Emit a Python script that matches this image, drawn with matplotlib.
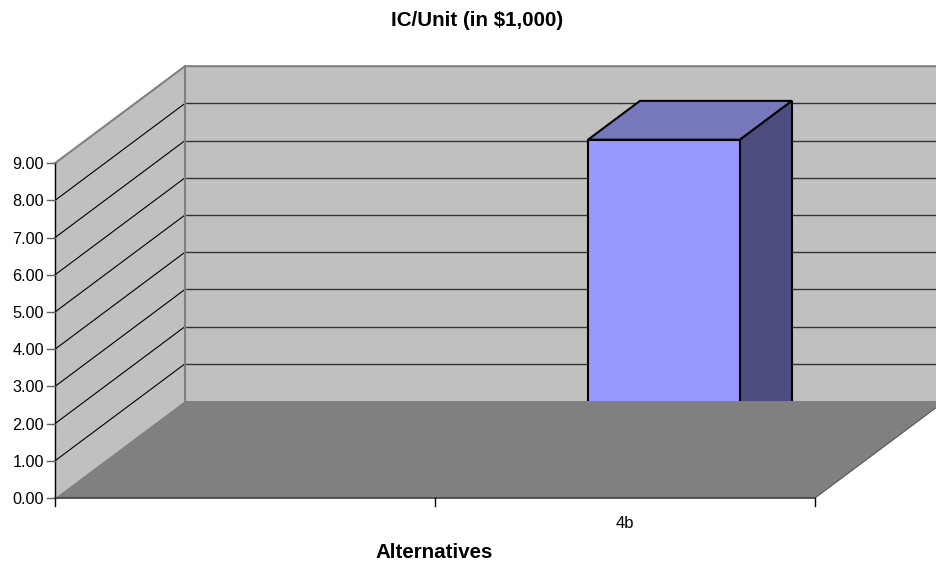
import matplotlib
matplotlib.use("Agg")
import matplotlib.pyplot as plt
from matplotlib.patches import Polygon

plt.rcParams['font.family'] = ['Liberation Sans', 'DejaVu Sans']

# data
categories = ['', '4b']
values = [0.0, 8.85]
y_ticks = [0, 1, 2, 3, 4, 5, 6, 7, 8, 9]
title = 'IC/Unit (in $1,000)'
x_title = 'Alternatives'

# oblique projection of the 3d chart box, in pixels
X0, Y0 = 55, 498
CAT_W = 380
UNIT_H = 37.2
DX, DY = 130, -97
BAR_W = 0.4
D0, D1 = 0.3, 0.7


def proj(cat, val, depth=0.0):
    return (X0 + cat * CAT_W + depth * DX, Y0 - val * UNIT_H + depth * DY)


def face(ax, pts, color, edge='none', lw=0, z=1):
    ax.add_patch(Polygon(pts, closed=True, facecolor=color, edgecolor=edge,
                         linewidth=lw, zorder=z, joinstyle='miter'))


fig = plt.figure(figsize=(9.36, 5.62), dpi=100)
ax = fig.add_axes([0, 0, 1, 1])
ax.set_xlim(0, 936)
ax.set_ylim(562, 0)
ax.axis('off')

n = len(categories)
top = y_ticks[-1]

# walls
face(ax, [proj(0, 0), proj(0, top), proj(0, top, 1), proj(0, 0, 1)], '#C0C0C0', z=1)
face(ax, [proj(0, 0, 1), proj(0, top, 1), proj(n, top, 1), proj(n, 0, 1)], '#C0C0C0', z=1)

# gridlines
for t in y_ticks[1:-1]:
    ax.plot(*zip(proj(0, t), proj(0, t, 1)), color='black', lw=0.8, zorder=2)
    ax.plot(*zip(proj(0, t, 1), proj(n, t, 1)), color='#333333', lw=1.0, zorder=2)

# wall outline
ax.plot(*zip(proj(0, top), proj(0, top, 1), proj(n, top, 1)), color='#808080', lw=1.5, zorder=2)
ax.plot(*zip(proj(0, 0, 1), proj(0, top, 1)), color='#808080', lw=1.5, zorder=2)

# bars
for i, v in enumerate(values):
    if v <= 0:
        continue
    a = i + (1 - BAR_W) / 2
    b = a + BAR_W
    face(ax, [proj(a, 0, D0), proj(a, v, D0), proj(b, v, D0), proj(b, 0, D0)],
         '#9999FF', 'black', 1.5, 3)
    face(ax, [proj(a, v, D0), proj(a, v, D1), proj(b, v, D1), proj(b, v, D0)],
         '#7777BB', 'black', 1.5, 3)
    face(ax, [proj(b, 0, D0), proj(b, v, D0), proj(b, v, D1), proj(b, 0, D1)],
         '#4D4D80', 'black', 1.5, 3)

# floor goes over the bar
face(ax, [proj(0, 0), proj(n, 0), proj(n, 0, 1), proj(0, 0, 1)], '#808080', z=4)
ax.plot(*zip(proj(n, 0), proj(n, 0, 1)), color='#555555', lw=0.8, zorder=4)

# axes
ax.plot(*zip(proj(0, 0), proj(0, top)), color='black', lw=1.0, zorder=5)
ax.plot(*zip(proj(0, 0), proj(n, 0)), color='#404040', lw=1.2, zorder=5)
for t in y_ticks:
    x, y = proj(0, t)
    ax.plot([x - 8, x], [y, y], color='#606060', lw=1.0, zorder=5)
    ax.text(x - 11, y + 1.5, '%.2f' % t, ha='right', va='center', fontsize=11.7, color='black')
for i in range(n + 1):
    x, y = proj(i, 0)
    ax.plot([x, x], [y, y + 8], color='black', lw=1.0, zorder=5)
for i, c in enumerate(categories):
    x, y = proj(i + 0.5, 0)
    ax.text(x, y + 25, c, ha='center', va='center', fontsize=12, color='black')

ax.text(477.5, 20, title, ha='center', va='center', fontsize=14.8, fontweight='bold')
ax.text(434.5, 552, x_title, ha='center', va='center', fontsize=14.8, fontweight='bold')

fig.savefig('out.png', dpi=100)
